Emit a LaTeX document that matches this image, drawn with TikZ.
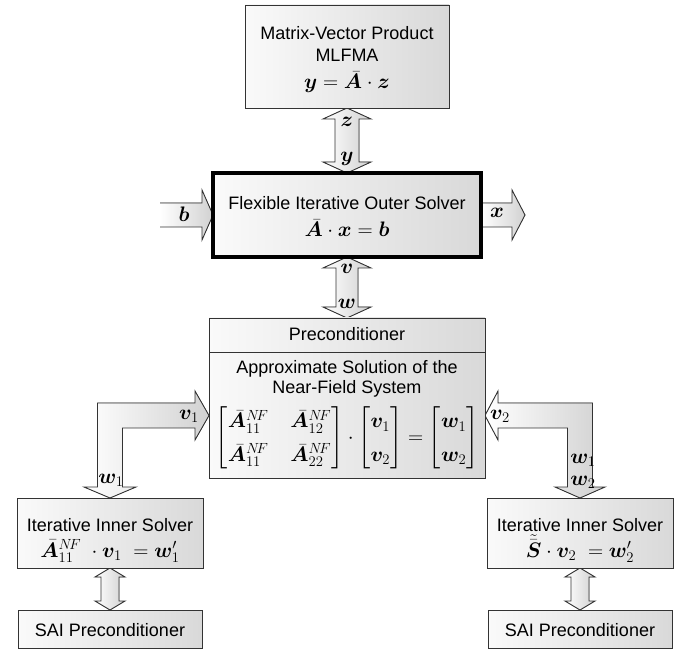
\documentclass[tikz,border=0pt]{standalone}
\usepackage{fix-cm}
\usepackage{fontspec}
\setmainfont{Liberation Sans}
\usepackage{amsmath,bm}
\usetikzlibrary{calc,backgrounds}
\newcommand\vdarrow[5]{%
  \filldraw[blockarrow] (#1) -- ($(#1)+(#4,#5)$) -- ($(#1)+(#3,#5)$) -- ($(#2)+(#3,-#5)$) -- ($(#2)+(#4,-#5)$) -- (#2) -- ($(#2)+(-#4,-#5)$) -- ($(#2)+(-#3,-#5)$) -- ($(#1)+(-#3,#5)$) -- ($(#1)+(-#4,#5)$) -- cycle;}
\begin{document}
\begin{tikzpicture}[x=1pt,y=-1pt,
  box/.style={draw=black!80, line width=0.9pt, left color=black!2, right color=black!15, inner sep=0pt, outer sep=0pt},
  txt/.style={font=\fontsize{18}{20}\selectfont, inner sep=0pt, anchor=base},
  mth/.style={font=\fontsize{21}{24}\selectfont, inner sep=0pt, anchor=base},
  lbl/.style={font=\fontsize{21}{24}\selectfont, inner sep=0pt},
  blockarrow/.style={draw=black!80, line width=0.9pt, left color=white, right color=black!18, line join=miter},
  arrowfill/.style={left color=white, right color=black!18},
  arrowline/.style={draw=black!80, line width=0.9pt, line join=miter}]
\useasboundingbox (0,0) rectangle (686,652);

% boxes
\node[box, minimum width=204pt, minimum height=103pt] (mvp) at (347,56.5) {};
\node[box, draw=black, line width=3.5pt, minimum width=268pt, minimum height=84pt] (outer) at (347,215) {};
\node[box, minimum width=276pt, minimum height=160pt] (prec) at (347,398) {};
\draw[black!80, line width=0.9pt] ($(prec.north west)+(0,34)$) -- ($(prec.north east)+(0,34)$);
\node[box, minimum width=186pt, minimum height=70pt] (in1) at (110,533) {};
\node[box, minimum width=186pt, minimum height=70pt] (in2) at (580,533) {};
\node[box, minimum width=184pt, minimum height=38pt] (sai1) at (110,629) {};
\node[box, minimum width=184pt, minimum height=38pt] (sai2) at (580,629) {};

% texts
\node[txt] (t1) at (347,40) {Matrix-Vector Product};
\node[txt] (t2) at (347,62) {MLFMA};
\node[mth] (t3) at (347,89) {$\bm{y}=\bar{\bm{A}}\cdot\bm{z}$};
\node[txt] (t4) at (347,210) {Flexible Iterative Outer Solver};
\node[mth] (t5) at (347,237) {$\bar{\bm{A}}\cdot\bm{x}=\bm{b}$};
\node[txt] (t6) at (347,341) {Preconditioner};
\node[txt] (t7) at (347,374) {Approximate Solution of the};
\node[txt] (t8) at (347,394) {Near-Field System};
\node[lbl] (t9) at (347,438) {\setlength\arraycolsep{4pt}\renewcommand\arraystretch{1.4}$\begin{bmatrix}\bar{\bm{A}}^{N\!F}_{11} & \hspace{14pt}\bar{\bm{A}}^{N\!F}_{12}\\ \bar{\bm{A}}^{N\!F}_{11} & \hspace{14pt}\bar{\bm{A}}^{N\!F}_{22}\end{bmatrix}\cdot\begin{bmatrix}\bm{v}_1\\ \bm{v}_2\end{bmatrix}=\begin{bmatrix}\bm{w}_1\\ \bm{w}_2\end{bmatrix}$};
\node[txt] (t10) at (110,531) {Iterative Inner Solver};
\node[mth] (t11) at (110,557) {$\bar{\bm{A}}^{N\!F}_{11}\;\cdot\bm{v}_1\;=\bm{w}'_1$};
\node[txt] (t12) at (580,531) {Iterative Inner Solver};
\node[mth] (t13) at (580,557) {$\tilde{\bar{\bm{S}}}\cdot\bm{v}_2\;=\bm{w}'_2$};
\node[txt] (t14) at (110,636) {SAI Preconditioner};
\node[txt] (t15) at (580,636) {SAI Preconditioner};

% arrows
\begin{pgfonlayer}{background}
\vdarrow{mvp.south}{outer.north}{12}{24}{11}
\vdarrow{outer.south}{prec.north}{11}{24}{11}
\vdarrow{in1.south}{sai1.north}{9}{15}{9}
\vdarrow{in2.south}{sai2.north}{9}{15}{9}
% b arrow (open end)
\fill[arrowfill] ($(outer.west)+(-53,-12)$) -- ($(outer.west)+(-11,-12)$) -- ($(outer.west)+(-11,-25)$) -- (outer.west) -- ($(outer.west)+(-11,25)$) -- ($(outer.west)+(-11,12)$) -- ($(outer.west)+(-53,12)$) -- cycle;
\draw[arrowline] ($(outer.west)+(-53,-12)$) -- ($(outer.west)+(-11,-12)$) -- ($(outer.west)+(-11,-25)$) -- (outer.west) -- ($(outer.west)+(-11,25)$) -- ($(outer.west)+(-11,12)$) -- ($(outer.west)+(-53,12)$);
% x arrow
\filldraw[blockarrow] ($(outer.east)+(0,-12)$) -- ($(outer.east)+(31,-12)$) -- ($(outer.east)+(31,-25)$) -- ($(outer.east)+(44,0)$) -- ($(outer.east)+(31,25)$) -- ($(outer.east)+(31,12)$) -- ($(outer.east)+(0,12)$) -- cycle;
% left elbow
\coordinate (L1) at ($(prec.west)+(0,17.5)$);
\coordinate (L2) at (in1.north);
\filldraw[blockarrow] (L1) -- ($(L1)+(-14,-24.5)$) -- ($(L1)+(-14,-12.5)$) -- ($(L2|-L1)+(-12.5,-12.5)$) -- ($(L2)+(-12.5,-11)$) -- ($(L2)+(-26,-11)$) -- (L2) -- ($(L2)+(26,-11)$) -- ($(L2)+(12.5,-11)$) -- ($(L2|-L1)+(12.5,12.5)$) -- ($(L1)+(-14,12.5)$) -- ($(L1)+(-14,24.5)$) -- cycle;
% right elbow
\coordinate (R1) at ($(prec.east)+(0,17.5)$);
\coordinate (R2) at (in2.north);
\filldraw[blockarrow] (R1) -- ($(R1)+(13,-24.5)$) -- ($(R1)+(13,-12.5)$) -- ($(R2|-R1)+(12.5,-12.5)$) -- ($(R2)+(12.5,-11)$) -- ($(R2)+(25,-11)$) -- (R2) -- ($(R2)+(-25,-11)$) -- ($(R2)+(-12.5,-11)$) -- ($(R2|-R1)+(-12.5,12.5)$) -- ($(R1)+(13,12.5)$) -- ($(R1)+(13,24.5)$) -- cycle;
\end{pgfonlayer}

% arrow labels
\node[lbl] (lz) at (347,122) {$\bm{z}$};
\node[lbl] (ly) at (347,159) {$\bm{y}$};
\node[lbl] (lv) at (347,269) {$\bm{v}$};
\node[lbl] (lw) at (347,304) {$\bm{w}$};
\node[lbl] (lb) at (184,214) {$\bm{b}$};
\node[lbl] (lx) at (497,213) {$\bm{x}$};
\node[lbl] (lv1) at (189,416) {$\bm{v}_1$};
\node[lbl] (lw1) at (111,480) {$\bm{w}_1$};
\node[lbl] (lv2) at (500,416) {$\bm{v}_2$};
\node[lbl] (lw1r) at (583,460) {$\bm{w}_1$};
\node[lbl] (lw2r) at (583,482) {$\bm{w}_2$};
\end{tikzpicture}
\end{document}
